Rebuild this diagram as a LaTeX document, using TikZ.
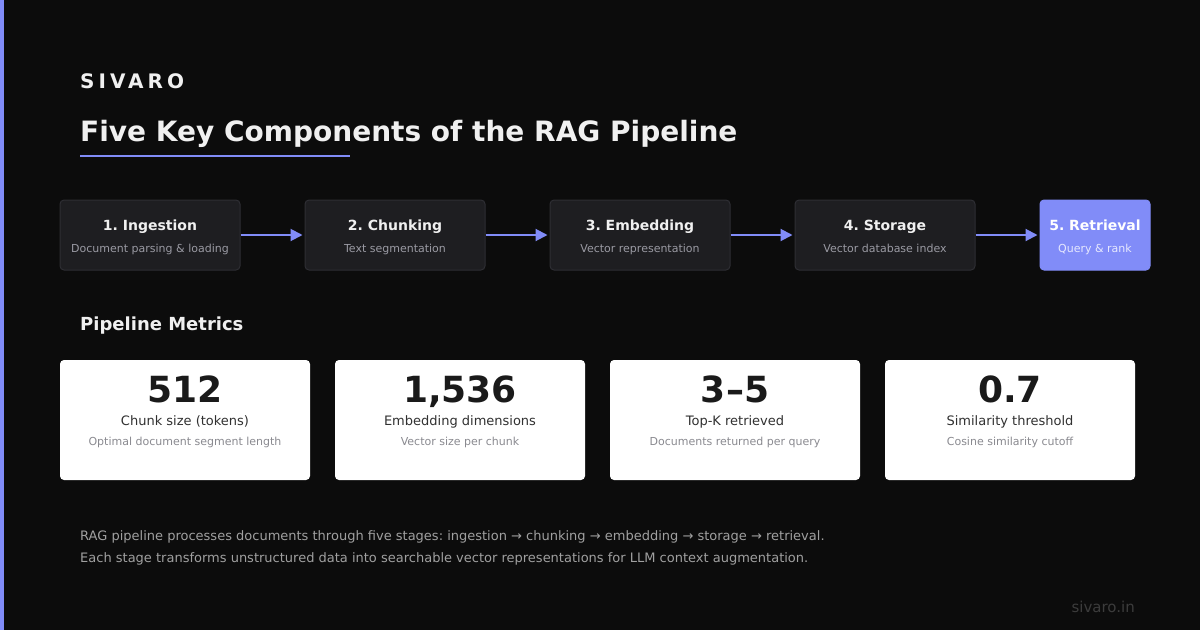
\documentclass[tikz,border=0pt]{standalone}
\usepackage{fontspec}
\setmainfont{DejaVu Sans}
\newfontfamily\spacedfont[LetterSpace=20]{DejaVu Sans}
\usepackage{tikz}
\usetikzlibrary{calc,arrows.meta}
\frenchspacing

\definecolor{bgdark}{HTML}{0C0C0C}
\definecolor{accent}{HTML}{818CF8}
\definecolor{stagefill}{HTML}{1E1E21}
\definecolor{stageline}{HTML}{2E2E33}
\definecolor{stagesub}{HTML}{9A9AA3}
\definecolor{cardnum}{HTML}{1A1A1A}
\definecolor{cardsub}{HTML}{8A8A90}
\definecolor{notegray}{HTML}{A0A0A0}
\definecolor{sitegray}{HTML}{3C3C3C}

\begin{document}
\begin{tikzpicture}[x=1pt, y=-1pt,
    stage/.style={rectangle, rounded corners=4pt, fill=stagefill, draw=stageline, line width=1pt, minimum width=180pt, minimum height=70pt, inner sep=0pt},
    stagetitle/.style={anchor=base, text=white!94!black, font=\bfseries\fontsize{14}{16}\selectfont, inner sep=0pt},
    stagesub/.style={anchor=base, text=stagesub, font=\fontsize{11}{13}\selectfont, inner sep=0pt},
    card/.style={rectangle, rounded corners=4pt, fill=white, minimum width=250pt, minimum height=120pt, inner sep=0pt},
    cardnum/.style={anchor=base, text=cardnum, font=\bfseries\fontsize{36}{40}\selectfont, inner sep=0pt},
    cardlabel/.style={anchor=base, text=cardnum!90!white, font=\fontsize{13}{16}\selectfont, inner sep=0pt},
    cardsub/.style={anchor=base, text=cardsub, font=\fontsize{11}{13}\selectfont, inner sep=0pt},
    flow/.style={-{Triangle[length=12pt,width=12pt]}, accent, line width=2pt}]

    % background and accent bar
    \fill[bgdark] (0,0) rectangle (1200,630);
    \useasboundingbox (0,0) rectangle (1200,630);
    \fill[accent] (0,0) rectangle (4,630);

    % header
    \node[anchor=base west, inner sep=0pt, text=white!94!black, font=\spacedfont\bfseries\fontsize{20}{24}\selectfont] (brand) at (80,88) {SIVARO};
    \node[anchor=base west, inner sep=0pt, text=white!94!black, font=\bfseries\fontsize{28}{32}\selectfont] (title) at (80,141) {Five Key Components of the RAG Pipeline};
    \draw[accent, line width=2pt] (80,156) -- (350,156);

    % pipeline stages
    \node[stage] (ingest) at (150,235) {};
    \node[stage] (chunk) at (395,235) {};
    \node[stage] (embed) at (640,235) {};
    \node[stage] (store) at (885,235) {};
    \node[stage, fill=accent, draw=accent, minimum width=110pt] (retrieve) at (1095,235) {};

    \node[stagetitle] at ($(ingest)+(0,-5)$) {1. Ingestion};
    \node[stagesub] at ($(ingest)+(0,17)$) {Document parsing \& loading};
    \node[stagetitle] at ($(chunk)+(0,-5)$) {2. Chunking};
    \node[stagesub] at ($(chunk)+(0,17)$) {Text segmentation};
    \node[stagetitle] at ($(embed)+(0,-5)$) {3. Embedding};
    \node[stagesub] at ($(embed)+(0,17)$) {Vector representation};
    \node[stagetitle] at ($(store)+(0,-5)$) {4. Storage};
    \node[stagesub] at ($(store)+(0,17)$) {Vector database index};
    \node[stagetitle, text=white] at ($(retrieve)+(0,-5)$) {5. Retrieval};
    \node[stagesub, text=white!80!accent] at ($(retrieve)+(0,17)$) {Query \& rank};

    \draw[flow] (ingest.east) -- ($(chunk.west)+(-2,0)$);
    \draw[flow] (chunk.east) -- ($(embed.west)+(-2,0)$);
    \draw[flow] (embed.east) -- ($(store.west)+(-2,0)$);
    \draw[flow] (store.east) -- ($(retrieve.west)+(-2,0)$);

    % metrics
    \node[anchor=base west, inner sep=0pt, text=white!94!black, font=\bfseries\fontsize{18}{22}\selectfont] (metrics) at (80,330) {Pipeline Metrics};

    \node[card] (size) at (185,420) {};
    \node[card] (dims) at (460,420) {};
    \node[card] (topk) at (735,420) {};
    \node[card] (thresh) at (1010,420) {};

    \node[cardnum] at ($(size)+(0,-18)$) {512};
    \node[cardlabel] at ($(size)+(0,5)$) {Chunk size (tokens)};
    \node[cardsub] at ($(size)+(0,25)$) {Optimal document segment length};
    \node[cardnum] at ($(dims)+(0,-18)$) {1,536};
    \node[cardlabel] at ($(dims)+(0,5)$) {Embedding dimensions};
    \node[cardsub] at ($(dims)+(0,25)$) {Vector size per chunk};
    \node[cardnum] at ($(topk)+(0,-18)$) {3--5};
    \node[cardlabel] at ($(topk)+(0,5)$) {Top-K retrieved};
    \node[cardsub] at ($(topk)+(0,25)$) {Documents returned per query};
    \node[cardnum] at ($(thresh)+(0,-18)$) {0.7};
    \node[cardlabel] at ($(thresh)+(0,5)$) {Similarity threshold};
    \node[cardsub] at ($(thresh)+(0,25)$) {Cosine similarity cutoff};

    % footnote
    \node[anchor=base west, inner sep=0pt, text=notegray, font=\fontsize{13}{16}\selectfont] (note1) at (80,540) {RAG pipeline processes documents through five stages: ingestion → chunking → embedding → storage → retrieval.};
    \node[anchor=base west, inner sep=0pt, text=notegray, font=\fontsize{13}{16}\selectfont] (note2) at (80,562) {Each stage transforms unstructured data into searchable vector representations for LLM context augmentation.};
    \node[anchor=base east, inner sep=0pt, text=sitegray, font=\fontsize{15}{17}\selectfont] (site) at (1135,612) {sivaro.in};
\end{tikzpicture}
\end{document}
